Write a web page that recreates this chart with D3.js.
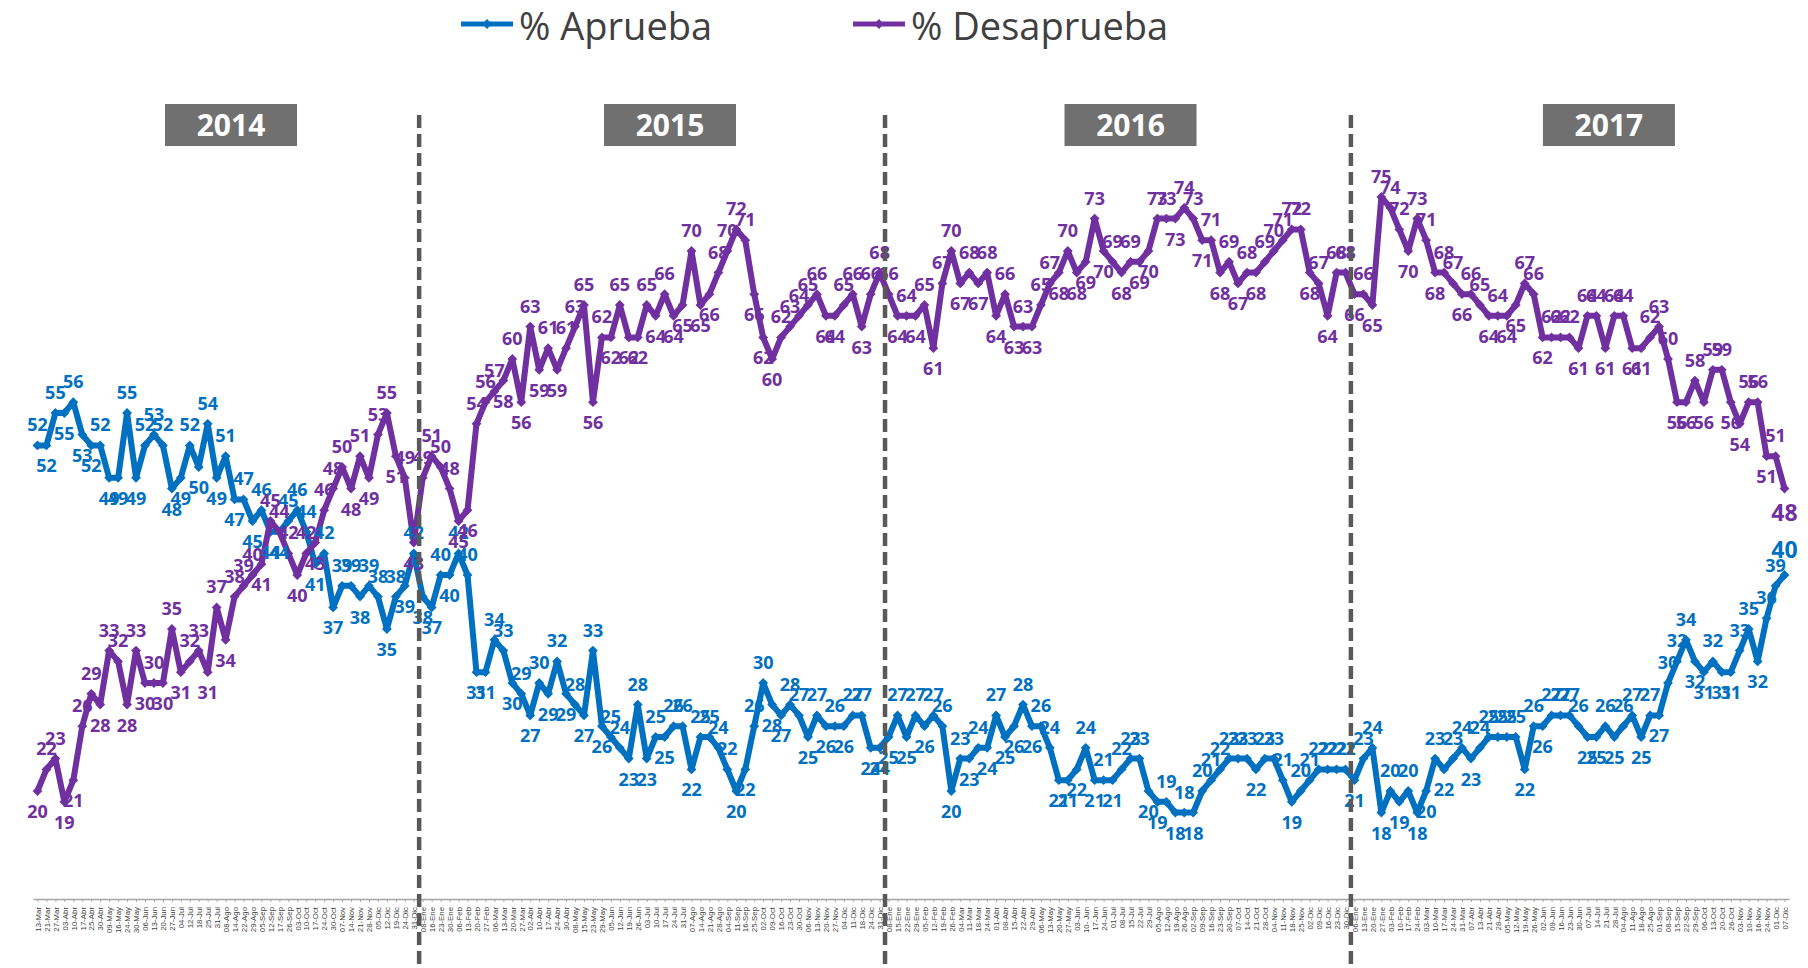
<!DOCTYPE html>
<html>
<head>
<meta charset="utf-8">
<script src="https://cdn.jsdelivr.net/npm/d3@7"></script>
<style>
  body { margin: 0; background: #fff; }
  svg { display: block; }
</style>
</head>
<body>
<svg id="chart" width="1808" height="968"></svg>
<script>
// fechas de cada medicion, por año
const fechas2014 = ["13-Mar","21-Mar","27-Mar","03-Abr","10-Abr","17-Abr","25-Abr","30-Abr","09-May","16-May","24-May","30-May","06-Jun","13-Jun","20-Jun","27-Jun","04-Jul","12-Jul","18-Jul","25-Jul","31-Jul","08-Ago","14-Ago","22-Ago","29-Ago","05-Sep","12-Sep","17-Sep","26-Sep","03-Oct","10-Oct","17-Oct","24-Oct","30-Oct","07-Nov","14-Nov","21-Nov","28-Nov","05-Dic","12-Dic","19-Dic","24-Dic","31-Dic"];
const fechas2015 = ["08-Ene","16-Ene","23-Ene","30-Ene","06-Feb","13-Feb","20-Feb","27-Feb","06-Mar","13-Mar","20-Mar","27-Mar","02-Abr","10-Abr","17-Abr","24-Abr","30-Abr","08-May","15-May","23-May","29-May","05-Jun","12-Jun","19-Jun","26-Jun","03-Jul","10-Jul","17-Jul","24-Jul","31-Jul","07-Ago","14-Ago","21-Ago","28-Ago","04-Sep","11-Sep","16-Sep","25-Sep","02-Oct","09-Oct","16-Oct","23-Oct","30-Oct","06-Nov","13-Nov","20-Nov","27-Nov","04-Dic","11-Dic","18-Dic","24-Dic","31-Dic"];
const fechas2016 = ["08-Ene","15-Ene","22-Ene","29-Ene","05-Feb","12-Feb","19-Feb","26-Feb","04-Mar","11-Mar","18-Mar","24-Mar","01-Abr","08-Abr","15-Abr","22-Abr","29-Abr","06-May","13-May","20-May","27-May","03-Jun","10- Jun","17-Jun","24-Jun","01-Jul","08-Jul","15-Jul","22-Jul","29-Jul","05-Ago","12-Ago","19-Ago","26-Ago","02-Sep","09-Sep","16-Sep","23-Sep","30-Sep","07-Oct","14-Oct","21-Oct","28-Oct","04-Nov","11-Nov","18-Nov","25-Nov","02-Dic","09-Dic","16-Dic","23-Dic","30-Dic"];
const fechas2017 = ["06-Ene","13-Ene","20-Ene","27-Ene","03-Feb","10-Feb","17-Feb","24-Feb","03-Mar","10-Mar","17-Mar","24-Mar","31-Mar","07-Abr","13-Abr","21-Abr","28-Abr","05-May","12-May","19-May","26-May","02-Jun","09-Jun","16-Jun","23-Jun","30-Jun","07-Jul","14-Jul","21-Jul","28-Jul","04-Ago","11-Ago","18-Ago","25-Ago","01-Sep","08-Sep","15-Sep","22-Sep","29-Sep","06-Oct","13-Oct","20-Oct","26-Oct","03-Nov","10-Nov","16-Nov","24-Nov","01-Dic","07-Dic"];

// % Aprueba
const aprueba2014 = [52,52,55,55,56,53,52,52,49,49,55,49,52,53,52,48,49,52,50,54,49,51,47,47,45,46,44,44,45,46,44,41,42,37,39,39,38,39,38,35,38,39,42];
const aprueba2015 = [38,37,40,40,42,40,31,31,34,33,30,29,27,30,29,32,29,28,27,33,26,25,24,23,28,23,25,25,26,26,22,25,25,24,22,20,22,26,30,28,27,28,27,25,27,26,26,26,27,27,24,24];
const aprueba2016 = [25,27,25,27,26,27,26,20,23,23,24,24,27,25,26,28,26,26,24,21,21,22,24,21,21,21,22,23,23,20,19,19,18,18,18,20,21,22,23,23,23,22,23,23,21,19,20,21,22,22,22,22];
const aprueba2017 = [21,23,24,18,20,19,20,18,20,23,22,23,24,23,24,25,25,25,25,22,26,26,27,27,27,26,25,25,26,25,26,27,25,27,27,30,32,34,32,31,32,31,31,33,35,32,36,39,40];

// % Desaprueba
const desaprueba2014 = [20,22,23,19,21,26,29,28,33,32,28,33,30,30,30,35,31,32,33,31,37,34,38,39,40,41,45,44,42,40,42,43,46,48,50,48,51,49,53,55,51,49,43];
const desaprueba2015 = [49,51,50,48,45,46,54,56,57,58,60,56,63,59,61,59,61,63,65,56,62,62,65,62,62,65,64,66,64,65,70,65,66,68,70,72,71,66,62,60,62,63,64,65,66,64,64,65,66,63,66,68];
const desaprueba2016 = [66,64,64,64,65,61,67,70,67,68,67,68,64,66,63,63,63,65,67,68,70,68,69,73,70,69,68,69,69,70,73,73,73,74,73,71,71,68,69,67,68,68,69,70,71,72,72,68,67,64,68,68];
const desaprueba2017 = [66,66,65,75,74,72,70,73,71,68,68,67,66,66,65,64,64,64,65,67,66,62,62,62,62,61,64,64,61,64,64,61,61,62,63,60,56,56,58,56,59,59,56,54,56,56,51,51,48];

const years = ["2014", "2015", "2016", "2017"];
// centro de cada recuadro de año, en unidades de semana
const yearBoxAt = [21.6, 70.6, 122, 175.4];

const fechas = [].concat(fechas2014, fechas2015, fechas2016, fechas2017);
const aprueba = [].concat(aprueba2014, aprueba2015, aprueba2016, aprueba2017);
const desaprueba = [].concat(desaprueba2014, desaprueba2015, desaprueba2016, desaprueba2017);

const width = 1808, height = 968;
const n = fechas.length;
const blue = "#0070c0", purple = "#7030a0";

// primer indice de cada año
const yearStart = [0, fechas2014.length, fechas2014.length + fechas2015.length,
    fechas2014.length + fechas2015.length + fechas2016.length];

const svg = d3.select("#chart");

const x = d3.scalePoint()
    .domain(d3.range(n))
    .range([33, 1789])
    .padding(0.5);
const step = x.step();

const y = d3.scaleLinear()
    .domain([10, 80])
    .range([899, 143]);

// eje x con fechas verticales
const axis = svg.append("g")
    .attr("transform", `translate(0,${y(10)})`)
    .call(d3.axisBottom(x)
        .tickFormat(i => fechas[i])
        .tickSize(3)
        .tickSizeOuter(0))
    .attr("font-family", "'Liberation Sans', Arial, sans-serif")
    .attr("font-size", 7.8);

axis.select(".domain")
    .attr("stroke", "#a6a6a6")
    .attr("stroke-width", 1.5);
axis.selectAll(".tick line")
    .attr("stroke", "#a6a6a6");
axis.selectAll(".tick text")
    .attr("transform", "rotate(-90)")
    .attr("text-anchor", "end")
    .attr("x", -8)
    .attr("y", 0)
    .attr("dy", "0.35em")
    .attr("fill", "#404040");

const series = [
    { name: "% Aprueba", values: aprueba, color: blue },
    { name: "% Desaprueba", values: desaprueba, color: purple }
];

const line = d3.line()
    .x((d, i) => x(i))
    .y(d => y(d));

const marker = d3.symbol(d3.symbolSquare, 48);

// lineas y marcadores
series.forEach(s => {
    svg.append("path")
        .datum(s.values)
        .attr("d", line)
        .attr("fill", "none")
        .attr("stroke", s.color)
        .attr("stroke-width", 6)
        .attr("stroke-linejoin", "round");

    svg.append("g")
        .selectAll("path")
        .data(s.values)
        .join("path")
        .attr("d", marker)
        .attr("transform", (d, i) => `translate(${x(i)},${y(d)}) rotate(45)`)
        .attr("fill", s.color);
});

// etiqueta arriba si el punto es un pico local, abajo si es un valle
function isUp(v, i) {
    const prev = i > 0 ? v[i - 1] : v[i + 1];
    const next = i < v.length - 1 ? v[i + 1] : v[i - 1];
    return v[i] >= (prev + next) / 2;
}

series.forEach(s => {
    const v = s.values;
    svg.append("g")
        .attr("font-family", "'Open Sans', sans-serif")
        .attr("font-weight", "bold")
        .attr("text-anchor", "middle")
        .attr("fill", s.color)
        .selectAll("text")
        .data(v)
        .join("text")
        .attr("x", (d, i) => x(i))
        .attr("y", (d, i) => {
            const last = i === v.length - 1;
            if (isUp(v, i)) return y(d) - (last ? 17 : 14);
            return y(d) + (last ? 32 : 27);
        })
        .attr("font-size", (d, i) => i === v.length - 1 ? 23 : 18)
        .text(d => d);
});

// recuadros de año
const yearBox = svg.append("g")
    .selectAll("g")
    .data(years)
    .join("g")
    .attr("transform", (d, i) => `translate(${x(0) + yearBoxAt[i] * step},125)`);

yearBox.append("rect")
    .attr("x", -66)
    .attr("y", -21)
    .attr("width", 132)
    .attr("height", 42)
    .attr("fill", "#707070");

yearBox.append("text")
    .attr("text-anchor", "middle")
    .attr("dy", "0.36em")
    .attr("fill", "#fff")
    .attr("font-family", "'Open Sans', sans-serif")
    .attr("font-weight", "bold")
    .attr("font-size", 30)
    .text(d => d);

// separadores punteados entre años
svg.append("g")
    .selectAll("line")
    .data(yearStart.slice(1))
    .join("line")
    .attr("x1", d => x(d) - 0.4 * step)
    .attr("x2", d => x(d) - 0.4 * step)
    .attr("y1", 115)
    .attr("y2", height)
    .attr("stroke", "#595959")
    .attr("stroke-width", 4.5)
    .attr("stroke-dasharray", "13,6");

// leyenda
const legendAt = [461, 853];
const legend = svg.append("g")
    .selectAll("g")
    .data(series)
    .join("g")
    .attr("transform", (d, i) => `translate(${legendAt[i]},24)`);

legend.append("line")
    .attr("x1", 0)
    .attr("x2", 52)
    .attr("stroke", d => d.color)
    .attr("stroke-width", 5);

legend.append("path")
    .attr("d", marker)
    .attr("transform", "translate(26,0) rotate(45)")
    .attr("fill", d => d.color);

legend.append("text")
    .attr("x", 58)
    .attr("y", 16)
    .attr("fill", "#404040")
    .attr("font-family", "'Open Sans', sans-serif")
    .attr("font-size", 38)
    .text(d => d.name);
</script>
</body>
</html>
